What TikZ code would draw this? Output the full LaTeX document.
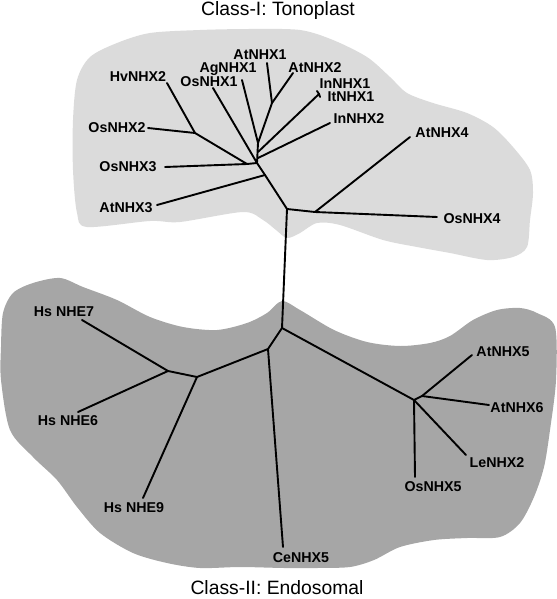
\documentclass[tikz,border=0pt]{standalone}
\usepackage{fontspec}
\setmainfont{Liberation Sans}
\usepackage{tikz}
\usepackage{xcolor}
\definecolor{tonogray}{gray}{0.86}
\definecolor{endogray}{gray}{0.65}

\begin{document}
\begin{tikzpicture}[x=1bp,y=-1bp,
  branch/.style={line width=1.9bp,line cap=round,line join=round},
  leaf/.style={font=\fontsize{14.3}{14}\selectfont\bfseries,inner sep=0pt},
  classname/.style={font=\fontsize{19.4}{20}\selectfont,inner sep=0pt}]
\useasboundingbox (0,0) rectangle (557,599);
% class areas
\fill[tonogray] plot[smooth cycle,tension=0.5] coordinates {
  (117,43) (150,33) (200,30) (250,29) (300,30) (333,40) (367,57) (390,77)
  (407,93) (433,103) (467,113) (493,127) (513,147) (530,170) (533,193)
  (530,220) (527,247) (513,257) (487,260) (450,253) (417,247) (383,240)
  (340,225) (317,223) (300,233) (287,238) (276,230) (263,220) (243,212)
  (180,222) (150,221) (87,227) (77,213) (73,170) (73,120) (77,80) (90,57)};
\fill[endogray] plot[smooth cycle,tension=0.5] coordinates {
  (60,278) (83,287) (117,300) (150,317) (183,327) (217,330) (247,323)
  (267,313) (282,301) (300,310) (334,330) (367,342) (400,346) (430,343)
  (450,336) (473,320) (497,310) (520,308) (537,313) (555,327) (556,380)
  (550,430) (544,467) (534,497) (520,523) (500,537) (467,538) (434,540)
  (400,547) (374,560) (350,567) (317,568) (284,568) (240,567) (200,568)
  (167,563) (133,553) (100,533) (77,507) (57,480) (33,457) (10,430)
  (1,380) (1,347) (3,313) (13,293) (33,283)};
% class titles
\node[classname] (tono) at (278,11) {Class-I: Tonoplast};
\node[classname] (endo) at (277,588) {Class-II: Endosomal};
% inner nodes, tonoplast part
\coordinate (r1) at (287,209);
\coordinate (s1) at (315,212);
\coordinate (ja) at (265,175);
\coordinate (jc) at (257,163);
\coordinate (jd) at (247,164);
\coordinate (je) at (195,133);
\coordinate (jf) at (258,143);
\coordinate (jg) at (272,103);
\coordinate (jh) at (258,152);
\coordinate (ji) at (258,158);
% inner nodes, endosomal part
\coordinate (e1) at (282,328);
\coordinate (e2) at (268,349);
\coordinate (e3) at (197,377);
\coordinate (e4) at (168,371);
\coordinate (er) at (414,400);
\coordinate (e5) at (422,396);
% tips, tonoplast part
\coordinate (tAtNHX4) at (410,137);
\coordinate (tOsNHX4) at (437,217);
\coordinate (tAtNHX3) at (157,205);
\coordinate (tHvNHX2) at (167,83);
\coordinate (tOsNHX2) at (148,128);
\coordinate (tOsNHX3) at (165,167);
\coordinate (tOsNHX1) at (213,88);
\coordinate (tAgNHX1) at (242,80);
\coordinate (tAtNHX1) at (267,63);
\coordinate (tAtNHX2) at (293,73);
\coordinate (tInNHX1) at (319,94);
\coordinate (tInNHX1a) at (317,91);
\coordinate (tItNHX1) at (320,97);
\coordinate (tInNHX2) at (330,123);
% tips, endosomal part
\coordinate (tNHE7) at (82,320);
\coordinate (tNHE6) at (78,412);
\coordinate (tNHE9) at (143,498);
\coordinate (tCeNHX5) at (283,547);
\coordinate (tAtNHX5) at (472,355);
\coordinate (tAtNHX6) at (489,405);
\coordinate (tLeNHX2) at (466,455);
\coordinate (tOsNHX5) at (415,477);
% leaf labels, tonoplast part
\node[leaf] (AtNHX4) at (442,133) {AtNHX4};
\node[leaf] (OsNHX4) at (472,219) {OsNHX4};
\node[leaf] (AtNHX3) at (126,208) {AtNHX3};
\node[leaf] (HvNHX2) at (138,77) {HvNHX2};
\node[leaf] (OsNHX2) at (117,128) {OsNHX2};
\node[leaf] (OsNHX3) at (128,167) {OsNHX3};
\node[leaf] (OsNHX1) at (209,82) {OsNHX1};
\node[leaf] (AgNHX1) at (228,69) {AgNHX1};
\node[leaf] (AtNHX1) at (260,55) {AtNHX1};
\node[leaf] (AtNHX2) at (315,68) {AtNHX2};
\node[leaf] (InNHX1) at (345,84) {InNHX1};
\node[leaf] (ItNHX1) at (351,97) {ItNHX1};
\node[leaf] (InNHX2) at (359,119) {InNHX2};
% leaf labels, endosomal part
\node[leaf] (HsNHE7) at (64,312) {Hs NHE7};
\node[leaf] (HsNHE6) at (68,421) {Hs NHE6};
\node[leaf] (HsNHE9) at (134,508) {Hs NHE9};
\node[leaf] (CeNHX5) at (301,558) {CeNHX5};
\node[leaf] (AtNHX5) at (503,352) {AtNHX5};
\node[leaf] (AtNHX6) at (517,408) {AtNHX6};
\node[leaf] (LeNHX2) at (497,463) {LeNHX2};
\node[leaf] (OsNHX5) at (433,487) {OsNHX5};
% branches, tonoplast part
\draw[branch] (r1) -- (ja) -- (jc);
\draw[branch] (r1) -- (s1) -- (tOsNHX4);
\draw[branch] (s1) -- (tAtNHX4);
\draw[branch] (ja) -- (tAtNHX3);
\draw[branch] (jc) -- (jd) -- (je) -- (tHvNHX2);
\draw[branch] (je) -- (tOsNHX2);
\draw[branch] (jd) -- (tOsNHX3);
\draw[branch] (jc) -- (tOsNHX1);
\draw[branch] (jc) -- (jf) -- (tAgNHX1);
\draw[branch] (jf) -- (jg) -- (tAtNHX1);
\draw[branch] (jg) -- (tAtNHX2);
\draw[branch] (jh) -- (tInNHX1) -- (tInNHX1a);
\draw[branch] (tInNHX1) -- (tItNHX1);
\draw[branch] (ji) -- (tInNHX2);
% trunk
\draw[branch] (r1) -- (e1);
% branches, endosomal part
\draw[branch] (e1) -- (e2) -- (e3) -- (e4) -- (tNHE7);
\draw[branch] (e4) -- (tNHE6);
\draw[branch] (e3) -- (tNHE9);
\draw[branch] (e2) -- (tCeNHX5);
\draw[branch] (e1) -- (er) -- (tOsNHX5);
\draw[branch] (er) -- (tLeNHX2);
\draw[branch] (er) -- (e5) -- (tAtNHX5);
\draw[branch] (e5) -- (tAtNHX6);
\end{tikzpicture}
\end{document}
